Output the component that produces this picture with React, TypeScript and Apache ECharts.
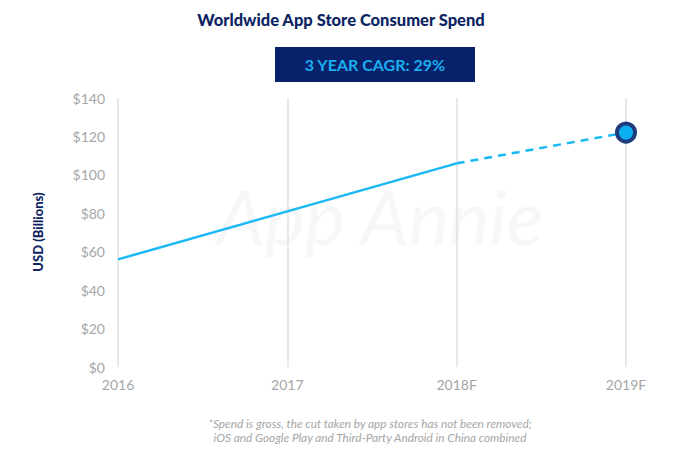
import React, { useEffect, useRef } from "react";
import * as echarts from "echarts";

const categories = ["2016", "2017", "2018F", "2019F"];
const actualValues: (number | string)[] = [56, 81, 106, "-"];
const forecastValues: (number | string)[] = ["-", "-", 106, 122];
const yTicks = [0, 20, 40, 60, 80, 100, 120, 140];
const titleText = "Worldwide App Store Consumer Spend";
const cagrText = "3 YEAR CAGR: 29%";
const yAxisName = "USD (Billions)";
const footnoteLines = [
  "*Spend is gross, the cut taken by app stores has not been removed;",
  "iOS and Google Play and Third-Party Android in China combined",
];

const NAVY = "#0d2463";
const BLUE = "#1ab8f5";
const FONT = "Lato, 'Open Sans', sans-serif";

export default function App() {
  const ref = useRef<HTMLDivElement>(null);
  useEffect(() => {
    if (!ref.current) return;
    const chart = echarts.init(ref.current, undefined, { renderer: "svg" });
    chart.setOption({
      animation: false,
      backgroundColor: "#ffffff",
      textStyle: { fontFamily: FONT },
      grid: { left: 118, right: 53, top: 98, bottom: 82 },
      graphic: [
        {
          type: "text",
          x: 341,
          y: 20,
          style: {
            text: titleText,
            fill: NAVY,
            font: `900 16.5px ${FONT}`,
            align: "center",
            verticalAlign: "middle",
          },
        },
        {
          type: "rect",
          shape: { x: 275, y: 47, width: 200, height: 35 },
          style: { fill: "#08216b" },
        },
        {
          type: "text",
          x: 375,
          y: 64.5,
          style: {
            text: cagrText,
            fill: "#1ab0f0",
            font: `bold 16px ${FONT}`,
            align: "center",
            verticalAlign: "middle",
          },
        },
        {
          type: "text",
          x: 380,
          y: 215,
          z: -1,
          style: {
            text: "App Annie",
            fill: "rgba(200,205,205,0.16)",
            font: `italic 400 76px ${FONT}`,
            align: "center",
            verticalAlign: "middle",
          },
        },
        {
          type: "text",
          x: 38,
          y: 232,
          rotation: Math.PI / 2,
          style: {
            text: yAxisName,
            fill: NAVY,
            font: `900 13px ${FONT}`,
            align: "center",
            verticalAlign: "middle",
          },
        },
        {
          type: "text",
          x: 370,
          y: 423,
          style: {
            text: footnoteLines[0],
            fill: "#a6a6a6",
            font: `italic 11.8px ${FONT}`,
            align: "center",
            verticalAlign: "middle",
          },
        },
        {
          type: "text",
          x: 370,
          y: 437,
          style: {
            text: footnoteLines[1],
            fill: "#a6a6a6",
            font: `italic 11.8px ${FONT}`,
            align: "center",
            verticalAlign: "middle",
          },
        },
      ],
      xAxis: {
        type: "category",
        data: categories,
        boundaryGap: false,
        axisLine: { show: false },
        axisTick: { show: false },
        axisLabel: { color: "#a6a6a6", fontSize: 14, margin: 10, fontFamily: FONT },
        splitLine: { show: true, lineStyle: { color: "#e0e0e0", width: 1.5 } },
      },
      yAxis: {
        type: "value",
        min: 0,
        max: 140,
        interval: 20,
        axisLine: { show: false },
        axisTick: { show: false },
        splitLine: { show: false },
        axisLabel: {
          color: "#a6a6a6",
          fontSize: 14,
          margin: 13,
          fontFamily: FONT,
          formatter: (v: number) => (yTicks.includes(v) ? "$" + v : ""),
        },
      },
      series: [
        {
          type: "line",
          data: actualValues,
          symbol: "none",
          lineStyle: { color: BLUE, width: 2.5 },
          z: 3,
        },
        {
          type: "line",
          data: forecastValues,
          showSymbol: true,
          symbol: (_v: any, p: any) => (p.dataIndex === 3 ? "circle" : "none"),
          symbolSize: 18,
          itemStyle: { color: "#0aaef0", borderColor: "#1e3c7c", borderWidth: 4 },
          lineStyle: { color: BLUE, width: 2.5, type: [8, 6] },
          z: 4,
        },
      ],
    });
    return () => chart.dispose();
  }, []);
  return (
    <div
      ref={ref}
      style={{ position: "fixed", left: 0, top: 0, width: 679, height: 449 }}
    />
  );
}
